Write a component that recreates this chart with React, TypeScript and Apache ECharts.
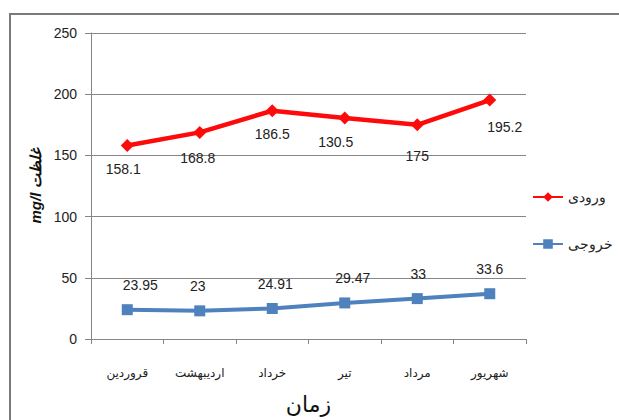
import React, { useEffect, useRef } from "react";
import * as echarts from "echarts";

const months = ["قروردین", "اردیبهشت", "خرداد", "تیر", "مرداد", "شهریور"];
const inletValues = [158.1, 168.8, 186.5, 180.5, 175, 195.2];
const inletLabels = ["158.1", "168.8", "186.5", "130.5", "175", "195.2"];
const outletValues = [23.95, 23, 24.91, 29.47, 33, 37];
const outletLabels = ["23.95", "23", "24.91", "29.47", "33", "33.6"];
const inletLabelOffsets = [[-4, 0], [-2, 2], [0, 0], [-9, 0], [0, 8], [15, 3]];
const outletLabelOffsets = [[13, 0], [-2, 0], [3, 0], [8, 0], [1, 0], [0, 0]];
const yTicks = { min: 0, max: 250, interval: 50 };

export default function App() {
  const ref = useRef<HTMLDivElement>(null);
  useEffect(() => {
    document.body.style.margin = "0";
    const chart = echarts.init(ref.current!, null, { renderer: "svg", width: 619, height: 420 });
    const font = "Liberation Sans";
    chart.setOption({
      animation: false,
      backgroundColor: "#ffffff",
      textStyle: { fontFamily: font },
      graphic: {
        elements: [
          {
            type: "rect",
            left: 9,
            top: 13,
            z: 100,
            silent: true,
            shape: { x: 0, y: 0, width: 640, height: 440 },
            style: { stroke: "#7a7a7a", lineWidth: 2, fill: "rgba(0,0,0,0)" },
          },
        ],
      },
      grid: { left: 91, right: 93, top: 33, bottom: 81 },
      legend: {
        orient: "vertical",
        left: 527,
        top: 185,
        itemWidth: 30,
        itemHeight: 12,
        itemGap: 33,
        textStyle: { fontSize: 14, color: "#222", fontFamily: font },
        data: ["ورودی", "خروجی"],
      },
      xAxis: {
        type: "category",
        data: months,
        boundaryGap: true,
        name: "زمان",
        nameLocation: "middle",
        nameGap: 54,
        nameTextStyle: { fontSize: 22, color: "#111", fontFamily: "DejaVu Sans" },
        axisLine: { lineStyle: { color: "#868686", width: 1 } },
        axisTick: { show: true, length: 5, alignWithLabel: false, lineStyle: { color: "#868686" } },
        axisLabel: { margin: 28, fontSize: 12, color: "#222", fontFamily: "DejaVu Sans" },
      },
      yAxis: {
        type: "value",
        min: yTicks.min,
        max: yTicks.max,
        interval: yTicks.interval,
        name: "mg/l غلظت",
        nameLocation: "middle",
        nameRotate: 90,
        nameGap: 45,
        nameTextStyle: { fontSize: 15, fontWeight: "bold", fontStyle: "italic", color: "#111", fontFamily: font },
        axisLine: { show: true, lineStyle: { color: "#868686", width: 1 } },
        axisTick: { show: true, length: 6, lineStyle: { color: "#868686" } },
        axisLabel: { margin: 14, fontSize: 14, color: "#222", fontFamily: font },
        splitLine: { show: true, lineStyle: { color: "#868686", width: 1 } },
      },
      series: [
        {
          name: "ورودی",
          type: "line",
          symbol: "diamond",
          symbolSize: 13,
          color: "#ff0a0a",
          lineStyle: { width: 4.5, color: "#ff0a0a" },
          itemStyle: { color: "#ff0a0a" },
          data: inletValues.map((v, i) => ({
            value: v,
            label: {
              show: true,
              position: "bottom",
              distance: 10,
              offset: inletLabelOffsets[i],
              formatter: inletLabels[i],
              fontSize: 14,
              color: "#222",
              fontFamily: font,
            },
          })),
        },
        {
          name: "خروجی",
          type: "line",
          symbol: "rect",
          symbolSize: 11,
          color: "#4f81bd",
          lineStyle: { width: 4, color: "#4f81bd" },
          itemStyle: { color: "#4f81bd" },
          data: outletValues.map((v, i) => ({
            value: v,
            label: {
              show: true,
              position: "top",
              distance: 12,
              offset: outletLabelOffsets[i],
              formatter: outletLabels[i],
              fontSize: 14,
              color: "#222",
              fontFamily: font,
            },
          })),
        },
      ],
    });
    return () => chart.dispose();
  }, []);
  return <div ref={ref} style={{ width: 619, height: 420 }} />;
}
